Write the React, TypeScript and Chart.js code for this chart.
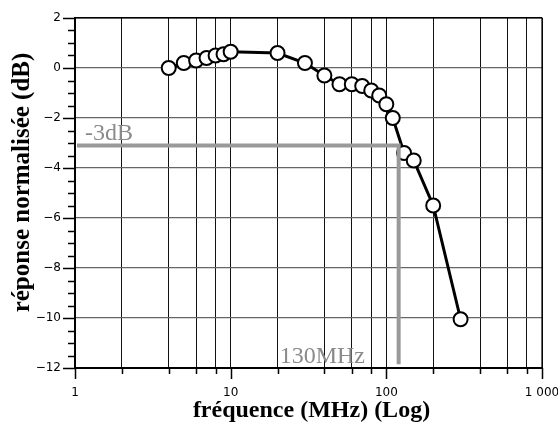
import React, { useEffect, useRef } from "react";
import { Chart, registerables } from "chart.js";

Chart.register(...registerables);

// ---- data ----
const freqMHz = [4, 5, 6, 7, 8, 9, 10, 20, 30, 40, 50, 60, 70, 80, 90, 100, 110, 130, 150, 200, 300];
const responseDb = [0, 0.2, 0.3, 0.4, 0.5, 0.55, 0.65, 0.6, 0.2, -0.3, -0.65, -0.65, -0.72, -0.9, -1.1, -1.45, -2.0, -3.4, -3.7, -5.5, -10.05];

const xTickValues = [1, 2, 4, 6, 8, 10, 20, 40, 60, 80, 100, 200, 400, 600, 800, 1000];
const xMajorValues = [1, 10, 100, 1000];
const xMajorLabels = ["1", "10", "100", "1 000"];

const yMin = -12;
const yMax = 2;
const yMinorStep = 0.5;
const yLabelStep = 2;

const cutoffDb = -3.1;
const cutoffMHz = 120;
const cutoffLineBottomDb = -11.85;
const cutoffDbLabel = "-3dB";
const cutoffFreqLabel = "130MHz";

const xTitle = "fréquence (MHz) (Log)";
const yTitle = "réponse normalisée (dB)";

const yTickValues: number[] = [];
for (let v = yMin; v <= yMax + 1e-9; v += yMinorStep) yTickValues.push(Math.round(v * 10) / 10);

const isYLabel = (v: number) => Math.abs(v / yLabelStep - Math.round(v / yLabelStep)) < 1e-6;

const GRAY_LINE = "#999999";
const GRAY_TEXT = "#8a8a8a";

const decorPlugin = {
  id: "decor",
  afterDatasetsDraw(chart: any) {
    const { ctx, chartArea, scales } = chart;
    const x = scales.x;
    const y = scales.y;
    const yc = y.getPixelForValue(cutoffDb);
    const xc = x.getPixelForValue(cutoffMHz);
    const yb = y.getPixelForValue(cutoffLineBottomDb);
    ctx.save();
    ctx.strokeStyle = GRAY_LINE;
    ctx.lineWidth = 4;
    ctx.lineCap = "butt";
    ctx.beginPath();
    ctx.moveTo(chartArea.left + 2, yc);
    ctx.lineTo(xc + 2, yc);
    ctx.moveTo(xc, yc - 2);
    ctx.lineTo(xc, yb);
    ctx.stroke();

    ctx.fillStyle = GRAY_TEXT;
    ctx.font = '24px "Liberation Serif", "Times New Roman", serif';
    ctx.textAlign = "left";
    ctx.textBaseline = "alphabetic";
    ctx.fillText(cutoffDbLabel, chartArea.left + 10, yc - 6);
    ctx.fillText(cutoffFreqLabel, xc - 119, yb - 1);
    ctx.restore();
  },
  afterDraw(chart: any) {
    const { ctx, chartArea, scales } = chart;
    const x = scales.x;
    const y = scales.y;
    ctx.save();
    // frame (top / right)
    ctx.strokeStyle = "#000";
    ctx.lineWidth = 1.2;
    ctx.beginPath();
    ctx.moveTo(chartArea.left, chartArea.top);
    ctx.lineTo(chartArea.right, chartArea.top);
    ctx.lineTo(chartArea.right, chartArea.bottom);
    ctx.stroke();

    // tick marks
    ctx.lineWidth = 1.5;
    ctx.beginPath();
    for (const v of yTickValues) {
      const py = Math.round(y.getPixelForValue(v)) + 0.5;
      const len = isYLabel(v) ? 12 : 7;
      ctx.moveTo(chartArea.left - len, py);
      ctx.lineTo(chartArea.left, py);
    }
    for (const v of xTickValues) {
      const px = Math.round(x.getPixelForValue(v)) + 0.5;
      const len = xMajorValues.includes(v) ? 11 : 6;
      ctx.moveTo(px, chartArea.bottom);
      ctx.lineTo(px, chartArea.bottom + len);
    }
    ctx.stroke();

    // axis titles
    ctx.fillStyle = "#000";
    ctx.font = 'bold 24px "Liberation Serif", "Times New Roman", serif';
    ctx.textAlign = "center";
    ctx.textBaseline = "alphabetic";
    ctx.fillText(xTitle, (chartArea.left + chartArea.right) / 2 + 3, chartArea.bottom + 49);

    ctx.font = 'bold 25px "Liberation Serif", "Times New Roman", serif';
    ctx.translate(29, (chartArea.top + chartArea.bottom) / 2 - 10.5);
    ctx.rotate(-Math.PI / 2);
    ctx.fillText(yTitle, 0, 0);
    ctx.restore();
  },
};

export default function App() {
  const canvasRef = useRef<HTMLCanvasElement | null>(null);

  useEffect(() => {
    if (!canvasRef.current) return;
    const chart = new Chart(canvasRef.current, {
      type: "line",
      data: {
        datasets: [
          {
            data: freqMHz.map((f, i) => ({ x: f, y: responseDb[i] })),
            borderColor: "#000",
            borderWidth: 3,
            pointRadius: 7,
            pointBorderWidth: 2,
            pointBackgroundColor: "#fff",
            pointBorderColor: "#000",
            tension: 0,
            clip: false as any,
          },
        ],
      },
      options: {
        animation: false,
        responsive: true,
        maintainAspectRatio: false,
        layout: { padding: { top: 18, right: 16, left: 0, bottom: 0 } },
        plugins: { legend: { display: false }, tooltip: { enabled: false } },
        scales: {
          x: {
            type: "logarithmic",
            min: 1,
            max: 1000,
            afterBuildTicks: (scale: any) => {
              scale.ticks = xTickValues.map((v) => ({ value: v, major: xMajorValues.includes(v) }));
            },
            afterFit: (scale: any) => {
              scale.height = 59;
              scale.paddingLeft = 0;
              scale.paddingRight = 0;
            },
            grid: { color: "#111", lineWidth: 1, drawTicks: false },
            border: { display: true, color: "#000", width: 2 },
            ticks: {
              autoSkip: false,
              maxRotation: 0,
              padding: 18,
              color: "#000",
              font: { family: '"DejaVu Sans", sans-serif', size: 12 },
              callback: (value: any) => {
                const idx = xMajorValues.indexOf(Number(value));
                return idx >= 0 ? xMajorLabels[idx] : "";
              },
            },
          },
          y: {
            type: "linear",
            min: yMin,
            max: yMax,
            afterBuildTicks: (scale: any) => {
              scale.ticks = yTickValues.map((v) => ({ value: v }));
            },
            afterFit: (scale: any) => {
              scale.width = 75;
              scale.paddingTop = 0;
              scale.paddingBottom = 0;
            },
            grid: {
              drawTicks: false,
              lineWidth: 1.3,
              color: (c: any) => {
                const v = c.tick ? c.tick.value : 0;
                if (!isYLabel(v)) return "rgba(0,0,0,0)";
                return v === yMax ? "#000" : "#666";
              },
            },
            border: { display: true, color: "#000", width: 2 },
            ticks: {
              autoSkip: false,
              padding: 14,
              color: "#000",
              font: { family: '"DejaVu Sans", sans-serif', size: 12 },
              callback: (value: any) => {
                const v = Number(value);
                if (!isYLabel(v)) return "";
                return v < 0 ? "\u2212" + Math.abs(v) : String(v);
              },
            },
          },
        },
      },
      plugins: [decorPlugin],
    });
    return () => chart.destroy();
  }, []);

  return (
    <div style={{ position: "fixed", left: 0, top: 0, width: 558, height: 427 }}>
      <canvas ref={canvasRef} />
    </div>
  );
}
